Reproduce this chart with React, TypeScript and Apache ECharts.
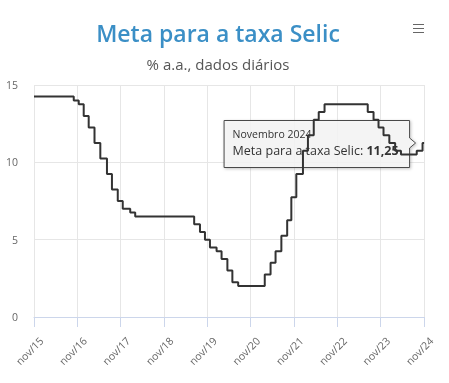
import React, { useEffect, useRef } from 'react';
import * as echarts from 'echarts';

// Axis origin (first tick) and tick labels
const ORIGIN = '2015-11-20';
const tickLabels = ['nov/15', 'nov/16', 'nov/17', 'nov/18', 'nov/19', 'nov/20', 'nov/21', 'nov/22', 'nov/23', 'nov/24'];

// Dates on which the Selic target changed, and the new target (% a.a.)
const changeDates = [
  '2015-11-20', '2016-10-20', '2016-12-01', '2017-01-12', '2017-02-23', '2017-04-13',
  '2017-06-01', '2017-07-27', '2017-09-07', '2017-10-26', '2017-12-07', '2018-02-08',
  '2018-03-22', '2019-08-01', '2019-09-19', '2019-10-31', '2019-12-12', '2020-02-06',
  '2020-03-19', '2020-05-07', '2020-06-18', '2020-08-06', '2021-03-18', '2021-05-06',
  '2021-06-17', '2021-08-05', '2021-09-23', '2021-10-28', '2021-12-09', '2022-02-03',
  '2022-03-17', '2022-05-05', '2022-06-16', '2022-08-04', '2023-08-03', '2023-09-21',
  '2023-11-02', '2023-12-14', '2024-02-01', '2024-03-21', '2024-05-09', '2024-09-19',
  '2024-11-07', '2024-11-20',
];
const rates = [
  14.25, 14.0, 13.75, 13.0, 12.25, 11.25,
  10.25, 9.25, 8.25, 7.5, 7.0, 6.75,
  6.5, 6.0, 5.5, 5.0, 4.5, 4.25,
  3.75, 3.0, 2.25, 2.0, 2.75, 3.5,
  4.25, 5.25, 6.25, 7.75, 9.25, 10.75,
  11.75, 12.75, 13.25, 13.75, 13.25, 12.75,
  12.25, 11.75, 11.25, 10.75, 10.5, 10.75,
  11.25, 11.25,
];
const yTicks = [0, 5, 10, 15];
const monthNamesPt = ['Janeiro', 'Fevereiro', 'Março', 'Abril', 'Maio', 'Junho', 'Julho', 'Agosto', 'Setembro', 'Outubro', 'Novembro', 'Dezembro'];

const TITLE = 'Meta para a taxa Selic';
const SUBTITLE = '% a.a., dados diários';
const SERIES_NAME = 'Meta para a taxa Selic';

function utc(s: string) {
  const [y, m, d] = s.split('-').map(Number);
  return Date.UTC(y, m - 1, d);
}
function dayOffset(s: string) {
  return (utc(s) - utc(ORIGIN)) / 86400000;
}

const FONT = '"Open Sans", "Noto Sans", sans-serif';

export default function App() {
  const ref = useRef<HTMLDivElement>(null);
  useEffect(() => {
    if (!ref.current) return;
    const chart = echarts.init(ref.current, null, { renderer: 'svg' });
    const data = changeDates.map((d, i) => [dayOffset(d), rates[i]]);
    const YEAR = 365.25;
    const xMax = YEAR * (tickLabels.length - 1);

    chart.setOption({
      animation: false,
      textStyle: { fontFamily: FONT },
      grid: { left: 34, right: 25, top: 85, bottom: 66 },
      xAxis: {
        type: 'value',
        min: 0,
        max: xMax,
        interval: YEAR,
        axisLine: { show: true, lineStyle: { color: '#ccd6eb', width: 1 } },
        axisTick: { show: true, length: 10, lineStyle: { color: '#ccd6eb' } },
        splitLine: { show: true, lineStyle: { color: '#e6e6e6', width: 1 } },
        axisLabel: { show: false },
      },
      yAxis: {
        type: 'value',
        min: yTicks[0],
        max: yTicks[yTicks.length - 1],
        interval: yTicks[1] - yTicks[0],
        axisLine: { show: false },
        axisTick: { show: false },
        splitLine: { show: true, lineStyle: { color: '#e6e6e6', width: 1 } },
        axisLabel: { color: '#666666', fontSize: 10.5, fontFamily: FONT, margin: 16, padding: [2, 0, 0, 0] },
      },
      series: [
        {
          name: SERIES_NAME,
          type: 'line',
          step: 'end',
          data,
          showSymbol: false,
          silent: true,
          lineStyle: { color: '#333333', width: 2 },
          itemStyle: { color: '#333333' },
        },
      ],
    });

    const last = data[data.length - 1];
    const p = chart.convertToPixel({ gridIndex: 0 }, last) as number[];
    const tx = p[0] - 8.5;
    const ty = p[1];
    const L = tx - 191.5;
    const R = tx - 6;
    const T = ty - 22.5;
    const B = ty + 24.5;
    const lastDate = new Date(utc(changeDates[changeDates.length - 1]));
    const header = `${monthNamesPt[lastDate.getUTCMonth()]} ${lastDate.getUTCFullYear()}`;
    const valueText = last[1].toFixed(2).replace('.', ',');

    const axisY = chart.convertToPixel({ yAxisIndex: 0 }, yTicks[0]) as number;
    const xLabels = tickLabels.map((lab, k) => {
      const x = chart.convertToPixel({ xAxisIndex: 0 }, k * YEAR) as number;
      return {
        type: 'text',
        x: x + 7.5,
        y: axisY + 22,
        rotation: Math.PI / 4,
        style: {
          text: lab,
          fill: '#666666',
          font: `10.5px ${FONT}`,
          textAlign: 'right',
          textVerticalAlign: 'middle',
        },
      };
    });

    chart.setOption({
      graphic: [
        ...xLabels,
        {
          type: 'text',
          x: 218,
          y: 33,
          style: {
            text: TITLE,
            fill: '#3b8fc6',
            font: `600 23px ${FONT}`,
            textAlign: 'center',
            textVerticalAlign: 'middle',
          },
        },
        {
          type: 'text',
          x: 218,
          y: 64,
          style: {
            text: SUBTITLE,
            fill: '#555555',
            font: `15px ${FONT}`,
            textAlign: 'center',
            textVerticalAlign: 'middle',
          },
        },
        {
          type: 'group',
          children: [24.5, 28.5, 32.5].map((y) => ({
            type: 'line',
            shape: { x1: 413, y1: y, x2: 424, y2: y },
            style: { stroke: '#666666', lineWidth: 1 },
          })),
        },
        {
          type: 'group',
          z: 100,
          children: [
            {
              type: 'polygon',
              shape: {
                points: [
                  [L, T], [R, T], [R, ty - 5], [tx, ty], [R, ty + 5], [R, B], [L, B],
                ],
              },
              style: {
                fill: 'rgba(247,247,247,0.85)',
                stroke: '#4a4a4a',
                lineWidth: 1,
                shadowBlur: 3,
                shadowOffsetX: 1,
                shadowOffsetY: 1,
                shadowColor: 'rgba(0,0,0,0.25)',
              },
            },
            {
              type: 'text',
              x: L + 8.5,
              y: ty - 9,
              style: {
                text: header,
                fill: '#333333',
                font: `10.5px ${FONT}`,
                textVerticalAlign: 'middle',
              },
            },
            {
              type: 'text',
              x: L + 8.5,
              y: ty + 7,
              style: {
                text: `{a|${SERIES_NAME}: }{b|${valueText}}`,
                textVerticalAlign: 'middle',
                rich: {
                  a: { fill: '#333333', fontSize: 12.5, fontFamily: FONT },
                  b: { fill: '#333333', fontSize: 12.5, fontFamily: FONT, fontWeight: 'bold' },
                },
              },
            },
          ],
        },
      ],
    });

    return () => chart.dispose();
  }, []);
  return <div ref={ref} style={{ position: 'fixed', left: 0, top: 0, width: 449, height: 383 }} />;
}
